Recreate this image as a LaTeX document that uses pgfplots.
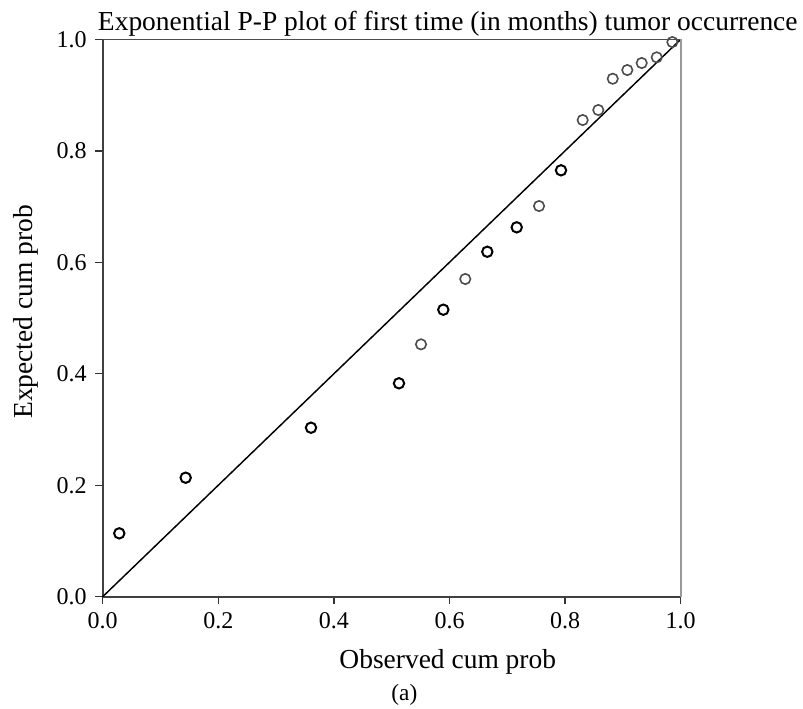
\documentclass[border=0pt]{standalone}
\usepackage{pgfplots}
\pgfplotsset{compat=1.18}
\usepackage{fontspec}
\setmainfont{Liberation Serif}

\begin{document}
\begin{tikzpicture}
    \begin{axis}[
        scale only axis,
        width=433.5pt, height=418pt,
        xmin=0, xmax=1, ymin=0, ymax=1,
        xtick={0,0.2,...,1.0}, ytick={0,0.2,...,1.0},
        axis x line*=bottom, axis y line*=left,
        axis line style={black!75, line width=1.3pt},
        tick align=outside,
        major tick length=5.5pt,
        tick style={black!80, line width=1.1pt},
        /pgf/number format/assume math mode=true,
        /pgf/number format/.cd, fixed, fixed zerofill, precision=1, /pgfplots/.cd,
        tick label style={font=\fontsize{18}{20}\selectfont, black},
        xticklabel style={yshift=-3pt},
        yticklabel style={xshift=-3pt},
        clip=false,
    ]
    % reference line
    \addplot[black, line width=1.1pt] coordinates {(0,0) (1,1)};
    % observed vs expected (darker circles)
    \addplot[only marks, mark=o, mark size=3.9pt, black,
        mark options={line width=1.5pt}]
        coordinates {
            (0.0287, 0.1137)
            (0.1436, 0.2135)
            (0.3604, 0.3032)
            (0.5126, 0.3829)
            (0.5893, 0.5149)
            (0.6654, 0.6189)
            (0.7163, 0.6627)
            (0.7929, 0.7650)
        };
    % lighter circles
    \addplot[only marks, mark=o, mark size=3.9pt, black!70,
        mark options={line width=1.2pt}]
        coordinates {
            (0.5507, 0.4528)
            (0.6273, 0.5700)
            (0.7549, 0.7009)
            (0.8304, 0.8552)
            (0.8574, 0.8732)
            (0.8824, 0.9293)
            (0.9076, 0.9449)
            (0.9325, 0.9575)
            (0.9585, 0.9677)
            (0.9855, 0.9951)
        };
    \draw[black!70, line width=1.2pt] (rel axis cs:0,1) -- (rel axis cs:1,1);
    \draw[black!40, line width=1.2pt] (rel axis cs:1,0) -- (rel axis cs:1,1);
    \node[anchor=base, font=\fontsize{20.6}{22}\selectfont]
        at (rel axis cs:0.597,1.0167) {Exponential P-P plot of first time (in months) tumor occurrence};
    \node[anchor=base, font=\fontsize{20.6}{22}\selectfont]
        at (rel axis cs:0.597,-0.128) {Observed cum prob};
    \node[anchor=base, rotate=90, font=\fontsize{20.6}{22}\selectfont]
        at (rel axis cs:-0.122,0.511) {Expected cum prob};
    \node[anchor=base, font=\fontsize{17.5}{19}\selectfont]
        at (rel axis cs:0.522,-0.187) {(a)};
    \end{axis}
    \pgfresetboundingbox
    \useasboundingbox (-77pt,-84.2pt) rectangle (525.2pt,447.5pt);
\end{tikzpicture}
\end{document}
